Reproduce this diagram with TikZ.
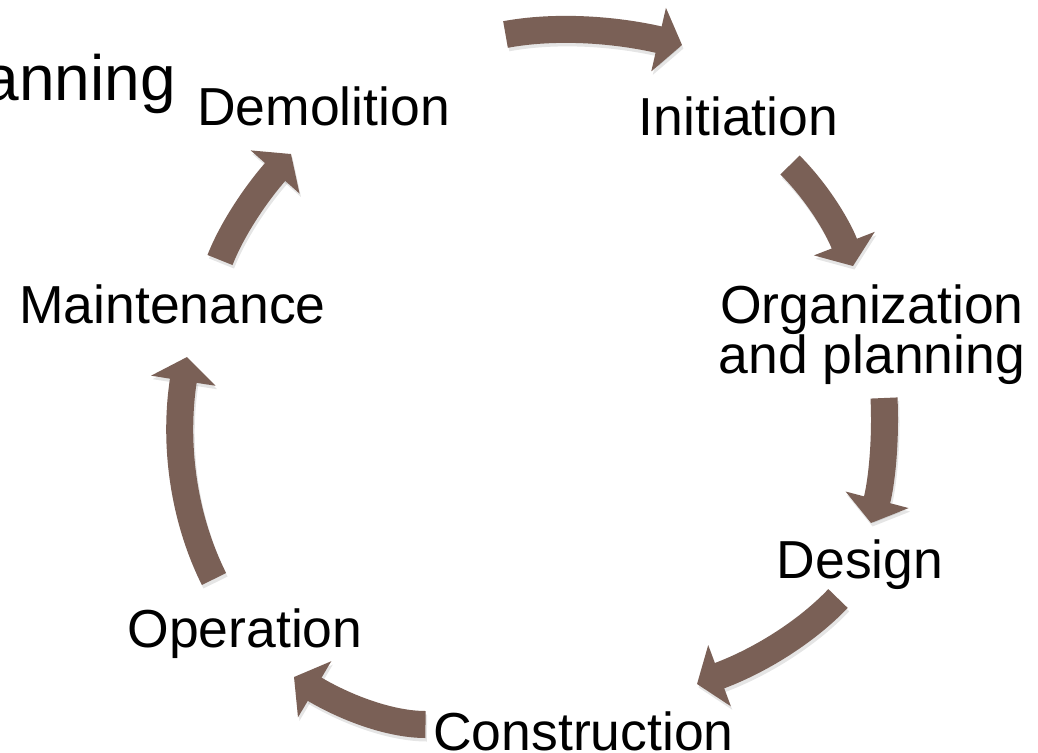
\documentclass[tikz,border=0pt]{standalone}
\usepackage{fontspec}
\setmainfont{Liberation Sans}
\usetikzlibrary{arrows.meta,calc}
\definecolor{arrowbrown}{RGB}{122,96,86}
\newcommand\mylblfont{\fontsize{53.5}{50}\selectfont\lineskiplimit=-100pt\relax}
\newcommand\mytitlefont{\fontsize{64}{70}\selectfont}
\begin{document}
\begin{tikzpicture}[x=1pt,y=-1pt,
  lbl/.style={inner sep=0pt, text=black, font={\mylblfont}},
  titlelbl/.style={inner sep=0pt, text=black, font={\mytitlefont}},
  cyc/.style={draw=arrowbrown, line width=27pt, -{Triangle[length=24pt,width=64pt]}},
  cycshadow/.style={draw=black, opacity=0.10, line width=27pt, -{Triangle[length=24pt,width=64pt]}}
]
\useasboundingbox[fill=white] (0,0) rectangle (1038,752);

% labels
\node[titlelbl, anchor=base east] (title) at (176,100) {anning};
\node[lbl, anchor=base] (demolition) at (323.5,125) {Demolition};
\node[lbl, anchor=base] (initiation) at (738.5,135) {Initiation};
\node[lbl, align=center, anchor=center] (org) at (872,334.2) {Organization\\and planning};
\node[lbl, anchor=base] (design) at (860,578) {Design};
\node[lbl, anchor=base] (construction) at (583.5,750) {Construction};
\node[lbl, anchor=base] (operation) at (245,647) {Operation};
\node[lbl, anchor=base] (maintenance) at (172.5,323) {Maintenance};

% arrow geometry
\coordinate (a1s) at (505.5,34.5); \coordinate (a1c) at (578,21);    \coordinate (a1e) at (682,45);
\coordinate (a2s) at (790,165);    \coordinate (a2c) at (829,204);   \coordinate (a2e) at (853,266);
\coordinate (a3s) at (884,398);    \coordinate (a3c) at (887,462);   \coordinate (a3e) at (871,523);
\coordinate (a4s) at (838,598.5);  \coordinate (a4c) at (789,650);   \coordinate (a4e) at (697,684);
\coordinate (a5s) at (425.5,724.5);\coordinate (a5c) at (374,724.5); \coordinate (a5e) at (294,677);
\coordinate (a6s) at (214,579);    \coordinate (a6c) at (167,485);   \coordinate (a6e) at (187,357);
\coordinate (a7s) at (220,260);    \coordinate (a7c) at (238,214);   \coordinate (a7e) at (291,154);

\foreach \s/\c/\e in {a1s/a1c/a1e,a2s/a2c/a2e,a3s/a3c/a3e,a4s/a4c/a4e,a5s/a5c/a5e,a6s/a6c/a6e,a7s/a7c/a7e}{
  \draw[cycshadow, transform canvas={shift={(1.5pt,-3.5pt)}}] (\s) .. controls ($(\s)!0.667!(\c)$) and ($(\e)!0.667!(\c)$) .. (\e);
  \draw[cyc] (\s) .. controls ($(\s)!0.667!(\c)$) and ($(\e)!0.667!(\c)$) .. (\e);
}
\end{tikzpicture}
\end{document}
